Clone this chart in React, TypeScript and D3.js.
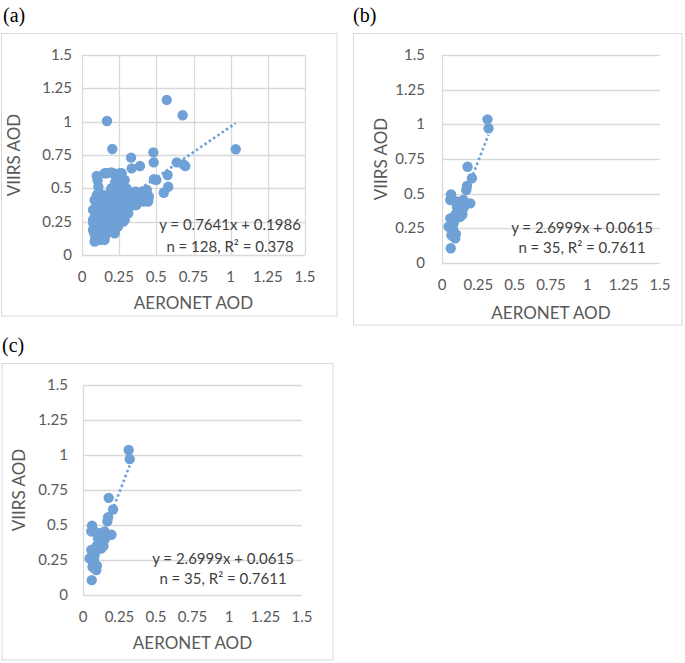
import React, { useRef, useEffect } from 'react';
import * as d3 from 'd3';

const tickValues = [0, 0.25, 0.5, 0.75, 1, 1.25, 1.5];
const tickLabels = ['0', '0.25', '0.5', '0.75', '1', '1.25', '1.5'];
const xTitle = 'AERONET AOD';
const yTitle = 'VIIRS AOD';

// panel (a): 128 sites
const aX = [
  0.168, 0.57, 0.677, 1.034, 0.204, 0.33, 0.334, 0.39, 0.48, 0.482, 0.484, 0.637, 0.681, 0.695, 0.576, 0.58, 0.55, 0.5,
  0.099, 0.152, 0.166, 0.197, 0.21, 0.253, 0.267, 0.11, 0.092, 0.13,
  0.222, 0.278, 0.287, 0.253, 0.222, 0.197, 0.289, 0.356, 0.365, 0.39, 0.435, 0.433, 0.446, 0.412, 0.444, 0.356, 0.365,
  0.311, 0.309, 0.255, 0.278, 0.287, 0.233, 0.242, 0.188, 0.22, 0.143, 0.152, 0.099, 0.121, 0.085, 0.083, 0.074, 0.087,
  0.074, 0.099, 0.074, 0.121, 0.085, 0.166, 0.188, 0.21, 0.242, 0.186, 0.143, 0.152, 0.121, 0.166, 0.13, 0.188, 0.233,
  0.255, 0.099, 0.143, 0.175, 0.12, 0.076,
  0.105, 0.115, 0.13, 0.16, 0.2, 0.21, 0.18, 0.23, 0.26, 0.3, 0.32, 0.34, 0.38, 0.4, 0.27, 0.3, 0.33, 0.25, 0.23,
  0.14, 0.1, 0.09, 0.11, 0.09, 0.16, 0.2, 0.24, 0.26, 0.14, 0.12, 0.17, 0.14,
  0.105, 0.125, 0.135, 0.095, 0.2, 0.28, 0.31, 0.42, 0.45, 0.27,
];
const aY = [
  1.005, 1.163, 1.048, 0.793, 0.795, 0.73, 0.65, 0.667, 0.77, 0.695, 0.568, 0.695, 0.68, 0.667, 0.6, 0.512, 0.467, 0.563,
  0.593, 0.613, 0.613, 0.62, 0.613, 0.613, 0.613, 0.512, 0.405, 0.438,
  0.543, 0.538, 0.563, 0.538, 0.475, 0.5, 0.413, 0.475, 0.475, 0.45, 0.488, 0.488, 0.413, 0.4, 0.4, 0.375, 0.375,
  0.313, 0.338, 0.288, 0.25, 0.263, 0.213, 0.213, 0.188, 0.163, 0.138, 0.113, 0.113, 0.113, 0.1, 0.163, 0.188, 0.288,
  0.263, 0.338, 0.338, 0.388, 0.413, 0.413, 0.463, 0.413, 0.425, 0.388, 0.313, 0.325, 0.238, 0.263, 0.263, 0.313, 0.35,
  0.413, 0.213, 0.188, 0.213, 0.15, 0.238,
  0.3, 0.35, 0.2, 0.23, 0.26, 0.3, 0.36, 0.38, 0.45, 0.5, 0.45, 0.42, 0.42, 0.47, 0.33, 0.37, 0.4, 0.5, 0.56,
  0.4, 0.45, 0.25, 0.17, 0.13, 0.15, 0.2, 0.25, 0.3, 0.27, 0.31, 0.44, 0.45,
  0.56, 0.42, 0.36, 0.37, 0.35, 0.4, 0.43, 0.44, 0.44, 0.52,
];
const aFit = [0.7641, 0.1986];
const aText = ['y = 0.7641x + 0.1986', 'n = 128, R\u00b2 = 0.378'];

// panel (b): 35 sites
const bX = [
  0.313, 0.32, 0.176, 0.206, 0.172, 0.167, 0.195, 0.062, 0.057, 0.069, 0.114, 0.148, 0.103, 0.137, 0.091, 0.126,
  0.057, 0.08, 0.045, 0.069, 0.08, 0.091, 0.06, 0.1, 0.12, 0.13, 0.07, 0.085, 0.11, 0.15, 0.065, 0.075, 0.095, 0.16, 0.14,
];
const bY = [
  1.036, 0.971, 0.694, 0.611, 0.555, 0.526, 0.43, 0.495, 0.454, 0.466, 0.442, 0.454, 0.406, 0.382, 0.346, 0.334,
  0.322, 0.286, 0.262, 0.238, 0.19, 0.178, 0.106, 0.36, 0.38, 0.42, 0.3, 0.32, 0.33, 0.4, 0.2, 0.25, 0.21, 0.43, 0.35,
];
const bFit = [2.6999, 0.0615];
const bText = ['y = 2.6999x + 0.0615', 'n = 35, R\u00b2 = 0.7611'];

// panel (c) repeats the same sites
const cX = bX;
const cY = bY;
const cFit = bFit;
const cText = bText;

const blue = '#6fa1d6';
const grid = '#d9d9d9';
const font = 'Lato, "Open Sans", sans-serif';

const panels = [
  { label: '(a)', lx: 3, ly: 22, xs: aX, ys: aY, fit: aFit, text: aText,
    box: [1.5, 33.5, 337, 316], plot: [82, 55, 305, 255], vGrid: true,
    tickRight: 72, xTickY: 282, yTitleX: 20, xTitleY: 309, eq: [230, 230, 252] },
  { label: '(b)', lx: 353, ly: 22, xs: bX, ys: bY, fit: bFit, text: bText,
    box: [353.5, 33.5, 682, 325], plot: [442, 55, 660, 263], vGrid: false,
    tickRight: 425, xTickY: 290, yTitleX: 387, xTitleY: 319, eq: [582, 233, 253] },
  { label: '(c)', lx: 2, ly: 352, xs: cX, ys: cY, fit: cFit, text: cText,
    box: [2, 363.5, 333, 660], plot: [83, 385, 302, 595], vGrid: false,
    tickRight: 68, xTickY: 622, yTitleX: 25, xTitleY: 649, eq: [223, 564, 584] },
];

const App = () => {
  const ref = useRef<SVGSVGElement>(null);

  useEffect(() => {
    const svg = d3.select(ref.current);
    svg.selectAll('*').remove();

    panels.forEach(p => {
      const g = svg.append('g');
      const [bx0, by0, bx1, by1] = p.box;
      const [px0, py0, px1, py1] = p.plot;
      const x = d3.scaleLinear().domain([0, 1.5]).range([px0, px1]);
      const y = d3.scaleLinear().domain([0, 1.5]).range([py1, py0]);

      g.append('text')
        .attr('x', p.lx).attr('y', p.ly)
        .attr('font-family', '"Liberation Serif", "Times New Roman", serif')
        .attr('font-size', 20).attr('fill', '#000')
        .text(p.label);

      g.append('rect')
        .attr('x', bx0).attr('y', by0)
        .attr('width', bx1 - bx0).attr('height', by1 - by0)
        .attr('fill', '#fff').attr('stroke', grid);

      // horizontal gridlines
      g.selectAll('.hg').data(tickValues).enter().append('line')
        .attr('x1', x(0)).attr('x2', x(1.5))
        .attr('y1', d => Math.round(y(d)) + 0.5).attr('y2', d => Math.round(y(d)) + 0.5)
        .attr('stroke', grid).attr('stroke-width', 1.3);

      // vertical gridlines (only the axis for b and c)
      g.selectAll('.vg').data(p.vGrid ? tickValues : [0]).enter().append('line')
        .attr('x1', d => Math.round(x(d)) + 0.5).attr('x2', d => Math.round(x(d)) + 0.5)
        .attr('y1', y(0)).attr('y2', y(1.5))
        .attr('stroke', grid).attr('stroke-width', 1.3);

      g.selectAll('.yt').data(tickValues).enter().append('text')
        .attr('x', p.tickRight).attr('y', d => y(d) + 5)
        .attr('text-anchor', 'end')
        .attr('font-family', font).attr('font-size', 15).attr('fill', '#595959')
        .text((d, i) => tickLabels[i]);

      g.selectAll('.xt').data(tickValues).enter().append('text')
        .attr('x', d => x(d)).attr('y', p.xTickY)
        .attr('text-anchor', 'middle')
        .attr('font-family', font).attr('font-size', 15).attr('fill', '#595959')
        .text((d, i) => tickLabels[i]);

      g.append('text')
        .attr('x', (px0 + px1) / 2).attr('y', p.xTitleY)
        .attr('text-anchor', 'middle')
        .attr('font-family', font).attr('font-size', 17).attr('fill', '#595959')
        .text(xTitle);

      g.append('text')
        .attr('transform', `translate(${p.yTitleX}, ${(py0 + py1) / 2}) rotate(-90)`)
        .attr('text-anchor', 'middle')
        .attr('font-family', font).attr('font-size', 17).attr('fill', '#595959')
        .text(yTitle);

      const pts = p.xs.map((v, i) => [v, p.ys[i]]);
      g.selectAll('.pt').data(pts).enter().append('circle')
        .attr('cx', d => x(d[0])).attr('cy', d => y(d[1]))
        .attr('r', 5.2).attr('fill', blue);

      const [xmin, xmax] = d3.extent(p.xs) as [number, number];
      const line = d3.line<number>().x(d => x(d)).y(d => y(p.fit[0] * d + p.fit[1]));
      g.append('path')
        .attr('d', line([xmin, xmax]))
        .attr('fill', 'none').attr('stroke', blue)
        .attr('stroke-width', 2.6).attr('stroke-dasharray', '2.6 2.6');

      g.selectAll('.eq').data(p.text).enter().append('text')
        .attr('x', p.eq[0]).attr('y', (d, i) => p.eq[i + 1] + 0)
        .attr('text-anchor', 'middle')
        .attr('font-family', font).attr('font-size', 15).attr('fill', '#404040')
        .text(d => d);
    });

    return () => {
      svg.selectAll('*').remove();
    };
  }, []);

  return (
    <svg
      ref={ref}
      width={685}
      height={663}
      style={{ position: 'absolute', left: 0, top: 0, display: 'block', background: '#fff' }}
    />
  );
};

export default App;
